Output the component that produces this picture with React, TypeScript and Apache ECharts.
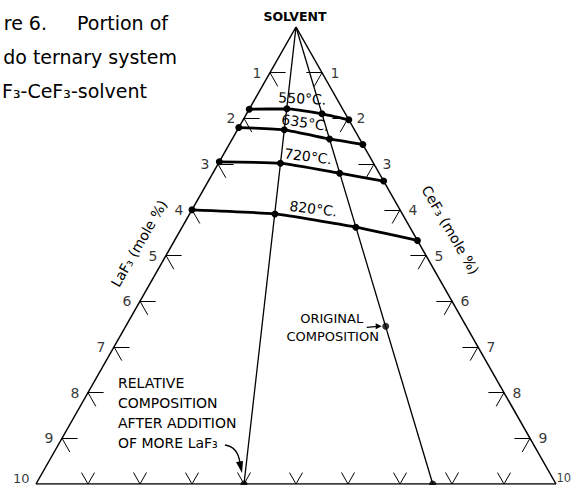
import React, { useEffect, useRef } from "react";
import * as echarts from "echarts";

// ---- data (mole %) ----
const SIDE_TICKS = [1, 2, 3, 4, 5, 6, 7, 8, 9, 10];
const BASE_TICKS_CEF3 = [1, 2, 3, 4, 5, 6, 7, 8, 9];

// composition rays from the solvent corner, end points on the 10 % line
const RAY_LAF3 = [6.0, 2.37];
const RAY_CEF3 = [4.0, 7.63];

const ISO_LABELS = ["550°C.", "635°C.", "720°C.", "820°C."];
const LAF3_550 = [1.8, 1.07, 0.45, 0];
const CEF3_550 = [0, 0.72, 1.45, 2.03];
const LAF3_635 = [2.2, 1.35, 0.58, 0];
const CEF3_635 = [0, 0.9, 1.87, 2.57];
const LAF3_720 = [2.95, 1.79, 0.76, 0];
const CEF3_720 = [0, 1.19, 2.44, 3.37];
const LAF3_820 = [4.0, 2.45, 1.04, 0];
const CEF3_820 = [0, 1.64, 3.34, 4.67];

const ORIGINAL_LAF3 = 1.55;
const ORIGINAL_CEF3 = 5.0;

const ISO_LAF3 = [LAF3_550, LAF3_635, LAF3_720, LAF3_820];
const ISO_CEF3 = [CEF3_550, CEF3_635, CEF3_720, CEF3_820];

// visible part of the (cropped) caption
const CAPTION_LINES = ["re 6.", "Portion of", "do ternary system", "F₃-CeF₃-solvent"];

// ternary (LaF3, CeF3) -> cartesian helper (x = CeF3 - LaF3, y = LaF3 + CeF3)
const xy = (la: number, ce: number) => [ce - la, la + ce];

const FONT = "DejaVu Sans";

export default function App() {
  const ref = useRef<HTMLDivElement>(null);

  useEffect(() => {
    const chart = echarts.init(ref.current!, null, { renderer: "svg" });

    const frame: any[] = [
      { coords: [xy(0, 0), xy(10, 0)] },
      { coords: [xy(0, 0), xy(0, 10)] },
      { coords: [xy(10, 0), xy(0, 10)] },
    ];
    const rays: any[] = RAY_LAF3.map((la, i) => ({
      coords: [xy(0, 0), xy(la, RAY_CEF3[i])],
    }));
    const ticks: any[] = [];
    const t = 0.3;
    SIDE_TICKS.filter((k) => k < 10).forEach((k) => {
      ticks.push({ coords: [xy(k, 0), xy(k - t, t)] });
      ticks.push({ coords: [xy(k, 0), xy(k, t)] });
      ticks.push({ coords: [xy(0, k), xy(t, k - t)] });
      ticks.push({ coords: [xy(0, k), xy(t, k)] });
    });
    const b = 0.25;
    BASE_TICKS_CEF3.forEach((c) => {
      const l = 10 - c;
      ticks.push({ coords: [xy(l, c), xy(l, c - b)] });
      ticks.push({ coords: [xy(l, c), xy(l - b, c)] });
    });

    const isoSeries = ISO_LABELS.map((name, i) => ({
      type: "line",
      name,
      data: ISO_LAF3[i].map((la, j) => xy(la, ISO_CEF3[i][j])),
      smooth: 0.15,
      symbol: "circle",
      symbolSize: 7,
      showSymbol: true,
      itemStyle: { color: "#000" },
      lineStyle: { color: "#000", width: 2.8 },
      z: 5,
    }));

    const labelStyle = {
      show: true,
      color: "#000",
      fontFamily: FONT,
      fontSize: 14,
      formatter: "{b}",
    };

    const sideLabel = (k: number, la: number, ce: number, left: boolean) => {
      const item: any = { name: String(k), value: xy(la, ce) };
      if (k === 10) {
        item.label = left
          ? { offset: [0, -6], fontSize: 13, distance: 6 }
          : { offset: [0, -6], fontSize: 11.5, distance: 0 };
      }
      return item;
    };

    chart.setOption({
      animation: false,
      backgroundColor: "#fff",
      grid: { left: 36, right: 16, top: 27, bottom: 1, outerBoundsMode: "none" },
      xAxis: { type: "value", min: -10, max: 10, show: false },
      yAxis: { type: "value", min: 0, max: 10, inverse: true, show: false },
      series: [
        {
          type: "lines",
          coordinateSystem: "cartesian2d",
          data: frame,
          lineStyle: { color: "#000", width: 1.5, opacity: 1 },
          silent: true,
        },
        {
          type: "lines",
          coordinateSystem: "cartesian2d",
          data: rays,
          lineStyle: { color: "#000", width: 1.3, opacity: 1 },
          silent: true,
        },
        {
          type: "lines",
          coordinateSystem: "cartesian2d",
          data: ticks,
          lineStyle: { color: "#000", width: 1, opacity: 1 },
          silent: true,
        },
        ...isoSeries,
        {
          type: "scatter",
          data: [
            ...RAY_LAF3.map((la, i) => xy(la, RAY_CEF3[i])),
            xy(ORIGINAL_LAF3, ORIGINAL_CEF3),
          ],
          symbol: "circle",
          symbolSize: 7,
          itemStyle: { color: "#000" },
          z: 6,
        },
        {
          type: "scatter",
          data: SIDE_TICKS.map((k) => sideLabel(k, k, 0, true)),
          symbolSize: 1,
          itemStyle: { color: "rgba(0,0,0,0)" },
          label: { ...labelStyle, position: "left", distance: 8 },
        },
        {
          type: "scatter",
          data: SIDE_TICKS.map((k) => sideLabel(k, 0, k, false)),
          symbolSize: 1,
          itemStyle: { color: "rgba(0,0,0,0)" },
          label: { ...labelStyle, position: "right", distance: 8 },
        },
      ],
    });

    const px = (la: number, ce: number) =>
      chart.convertToPixel({ gridIndex: 0 }, xy(la, ce)) as number[];

    const g: any[] = [];
    const txt = (
      text: string,
      x: number,
      y: number,
      size: number,
      align = "left",
      extra: any = {}
    ) => ({
      type: "text",
      x,
      y,
      ...extra,
      style: {
        text,
        fill: "#000",
        fontFamily: extra.fontFamily || FONT,
        fontSize: size,
        fontWeight: extra.fontWeight || "normal",
        align,
        verticalAlign: "middle",
      },
    });

    // caption fragment (as visible in the cropped figure)
    g.push(txt(CAPTION_LINES[0], 47, 23, 19, "right"));
    g.push(txt(CAPTION_LINES[1], 77, 23, 19, "left"));
    g.push(txt(CAPTION_LINES[2], 177, 57, 19, "right"));
    g.push(txt(CAPTION_LINES[3], 147, 91, 19, "right"));

    // solvent corner label
    const apex = px(0, 0);
    g.push(txt("SOLVENT", apex[0] - 1, apex[1] - 11, 12.5, "center", { fontWeight: "bold" }));

    // side titles
    const lMid = px(5, 0);
    g.push(
      txt("LaF₃ (mole %)", lMid[0] - 27, lMid[1] - 12, 14, "center", {
        rotation: (60 * Math.PI) / 180,
      })
    );
    const rMid = px(0, 4.4);
    g.push(
      txt("CeF₃ (mole %)", rMid[0] + 40, rMid[1] + 2, 14, "center", {
        rotation: (-60 * Math.PI) / 180,
      })
    );

    // isotherm temperature labels
    ISO_LABELS.forEach((label, i) => {
      const a = px(ISO_LAF3[i][1], ISO_CEF3[i][1]);
      const c = px(ISO_LAF3[i][2], ISO_CEF3[i][2]);
      const ang = Math.atan2(c[1] - a[1], c[0] - a[0]);
      const mx = (a[0] + c[0]) / 2;
      const my = (a[1] + c[1]) / 2;
      const off = i === 0 ? 13 : 12;
      const k = i === 0 ? 0.35 : 0.75;
      g.push(
        txt(label, mx + off * Math.sin(ang) - 4, my - off * Math.cos(ang), 14, "center", {
          rotation: -ang * k,
        })
      );
    });

    // original composition annotation
    const o = px(ORIGINAL_LAF3, ORIGINAL_CEF3);
    g.push(txt("ORIGINAL", o[0] - 54, o[1] - 8, 13, "center"));
    g.push(txt("COMPOSITION", o[0] - 53, o[1] + 10, 13, "center"));
    g.push({
      type: "line",
      shape: { x1: o[0] - 19, y1: o[1] + 1, x2: o[0] - 8, y2: o[1] },
      style: { stroke: "#000", lineWidth: 1.2 },
    });
    g.push({
      type: "polygon",
      shape: {
        points: [
          [o[0] - 4, o[1]],
          [o[0] - 10, o[1] - 3],
          [o[0] - 10, o[1] + 3],
        ],
      },
      style: { fill: "#000" },
    });

    // relative composition annotation
    const q = px(RAY_LAF3[0], RAY_CEF3[0]);
    ["RELATIVE", "COMPOSITION", "AFTER ADDITION", "OF MORE LaF₃"].forEach((s, i) => {
      g.push(txt(s, q[0] - 126, q[1] - 101 + i * 20, 14, "left"));
    });
    g.push({
      type: "bezierCurve",
      shape: {
        x1: q[0] - 19,
        y1: q[1] - 39,
        cpx1: q[0] - 6,
        cpy1: q[1] - 37,
        x2: q[0] - 4,
        y2: q[1] - 21,
      },
      style: { stroke: "#000", lineWidth: 1.3, fill: null },
    });
    g.push({
      type: "polygon",
      shape: {
        points: [
          [q[0] - 2, q[1] - 11],
          [q[0] - 8, q[1] - 22],
          [q[0] - 1, q[1] - 23],
        ],
      },
      style: { fill: "#000" },
    });

    chart.setOption({ graphic: g });

    return () => chart.dispose();
  }, []);

  return (
    <div
      ref={ref}
      style={{ position: "absolute", left: 0, top: 0, width: 572, height: 485, background: "#fff" }}
    />
  );
}
